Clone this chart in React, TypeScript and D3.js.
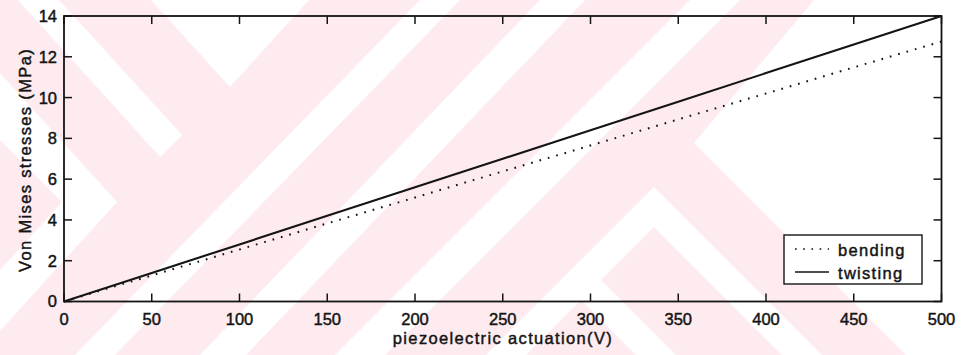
import React from "react";
import * as d3 from "d3";

const voltages = [0, 50, 100, 150, 200, 250, 300, 350, 400, 450, 500];
const bending = [0, 1.28, 2.55, 3.83, 5.1, 6.38, 7.65, 8.93, 10.2, 11.48, 12.75];
const twisting = [0, 1.4, 2.8, 4.2, 5.6, 7.0, 8.4, 9.8, 11.2, 12.6, 14.0];
const xTicks = [0, 50, 100, 150, 200, 250, 300, 350, 400, 450, 500];
const yTicks = [0, 2, 4, 6, 8, 10, 12, 14];
const seriesNames = ["bending", "twisting"];

// faint background watermark (decorative, white shapes on light pink)
const watermarkWhite: [number, number][][] = [
  [[18, 0], [59, 0], [182, 135], [160, 157]],
  [[151, 0], [309, 0], [230, 87]],
  [[0, 73], [117, 202], [0, 331], [0, 270], [62, 202], [0, 140]],
  [[420, 0], [460, 0], [115, 355], [75, 355]],
  [[540, 0], [585, 0], [246, 355], [200, 355]],
  [[690, 0], [740, 0], [385, 355], [335, 355]],
  [[486, 355], [654, 187], [822, 355], [782, 355], [654, 227], [526, 355]],
  [[581, 260], [676, 355], [636, 355], [561, 280]],
  [[814, 0], [963, 0], [963, 355], [906, 355], [694, 143]],
];

const W = 963;
const H = 355;
const font = "'Liberation Sans', Arial, Helvetica, sans-serif";
const ink = "#141414";

export default function App() {
  const x = d3.scaleLinear().domain([0, 500]).range([64, 941.5]);
  const y = d3.scaleLinear().domain([0, 14]).range([301.5, 16]);
  const line = d3
    .line<number>()
    .x((_, i) => x(voltages[i]))
    .y((d) => y(d));
  const tl = 8;
  const textStyle = { stroke: ink, strokeWidth: 0.45, fill: ink } as const;
  return (
    <svg
      width={W}
      height={H}
      style={{ position: "absolute", left: 0, top: 0, display: "block" }}
      fontFamily={font}
    >
      <rect x={0} y={0} width={W} height={H} fill="#fdebef" />
      {watermarkWhite.map((p, i) => (
        <polygon key={i} points={p.map((q) => q.join(",")).join(" ")} fill="#ffffff" />
      ))}
      {/* data */}
      <path d={line(bending) || ""} fill="none" stroke={ink} strokeWidth={2} strokeDasharray="1.7 7" />
      <path d={line(twisting) || ""} fill="none" stroke={ink} strokeWidth={2.1} />
      {/* frame */}
      <rect
        x={x(0)}
        y={y(14)}
        width={x(500) - x(0)}
        height={y(0) - y(14)}
        fill="none"
        stroke={ink}
        strokeWidth={1.8}
      />
      {xTicks.map((t) => (
        <g key={"x" + t}>
          <line x1={x(t)} x2={x(t)} y1={y(0)} y2={y(0) - tl} stroke={ink} strokeWidth={1.5} />
          <line x1={x(t)} x2={x(t)} y1={y(14)} y2={y(14) + tl} stroke={ink} strokeWidth={1.5} />
          <text x={x(t)} y={325} textAnchor="middle" fontSize={16.5} {...textStyle}>
            {t}
          </text>
        </g>
      ))}
      {yTicks.map((t) => (
        <g key={"y" + t}>
          <line x1={x(0)} x2={x(0) + tl} y1={y(t)} y2={y(t)} stroke={ink} strokeWidth={1.5} />
          <line x1={x(500)} x2={x(500) - tl} y1={y(t)} y2={y(t)} stroke={ink} strokeWidth={1.5} />
          <text x={57} y={y(t)} dy="0.36em" textAnchor="end" fontSize={16.5} {...textStyle}>
            {t}
          </text>
        </g>
      ))}
      <text x={503} y={344} textAnchor="middle" fontSize={16.5} letterSpacing={1.35} {...textStyle}>
        piezoelectric actuation(V)
      </text>
      <text
        transform={`translate(31,160) rotate(-90)`}
        textAnchor="middle"
        fontSize={16.5}
        letterSpacing={1.35}
        {...textStyle}
      >
        Von Mises stresses (MPa)
      </text>
      {/* legend */}
      <rect x={784} y={235} width={138} height={49} fill="#fff" stroke={ink} strokeWidth={1.4} />
      {seriesNames.map((n, i) => (
        <g key={n}>
          <line
            x1={795}
            x2={829}
            y1={249 + i * 23}
            y2={249 + i * 23}
            stroke={ink}
            strokeWidth={i === 0 ? 1.7 : 1.4}
            strokeDasharray={i === 0 ? "1.7 6.5" : undefined}
          />
          <text x={838} y={255.5 + i * 23} fontSize={16.5} letterSpacing={1.3} {...textStyle}>
            {n}
          </text>
        </g>
      ))}
    </svg>
  );
}
